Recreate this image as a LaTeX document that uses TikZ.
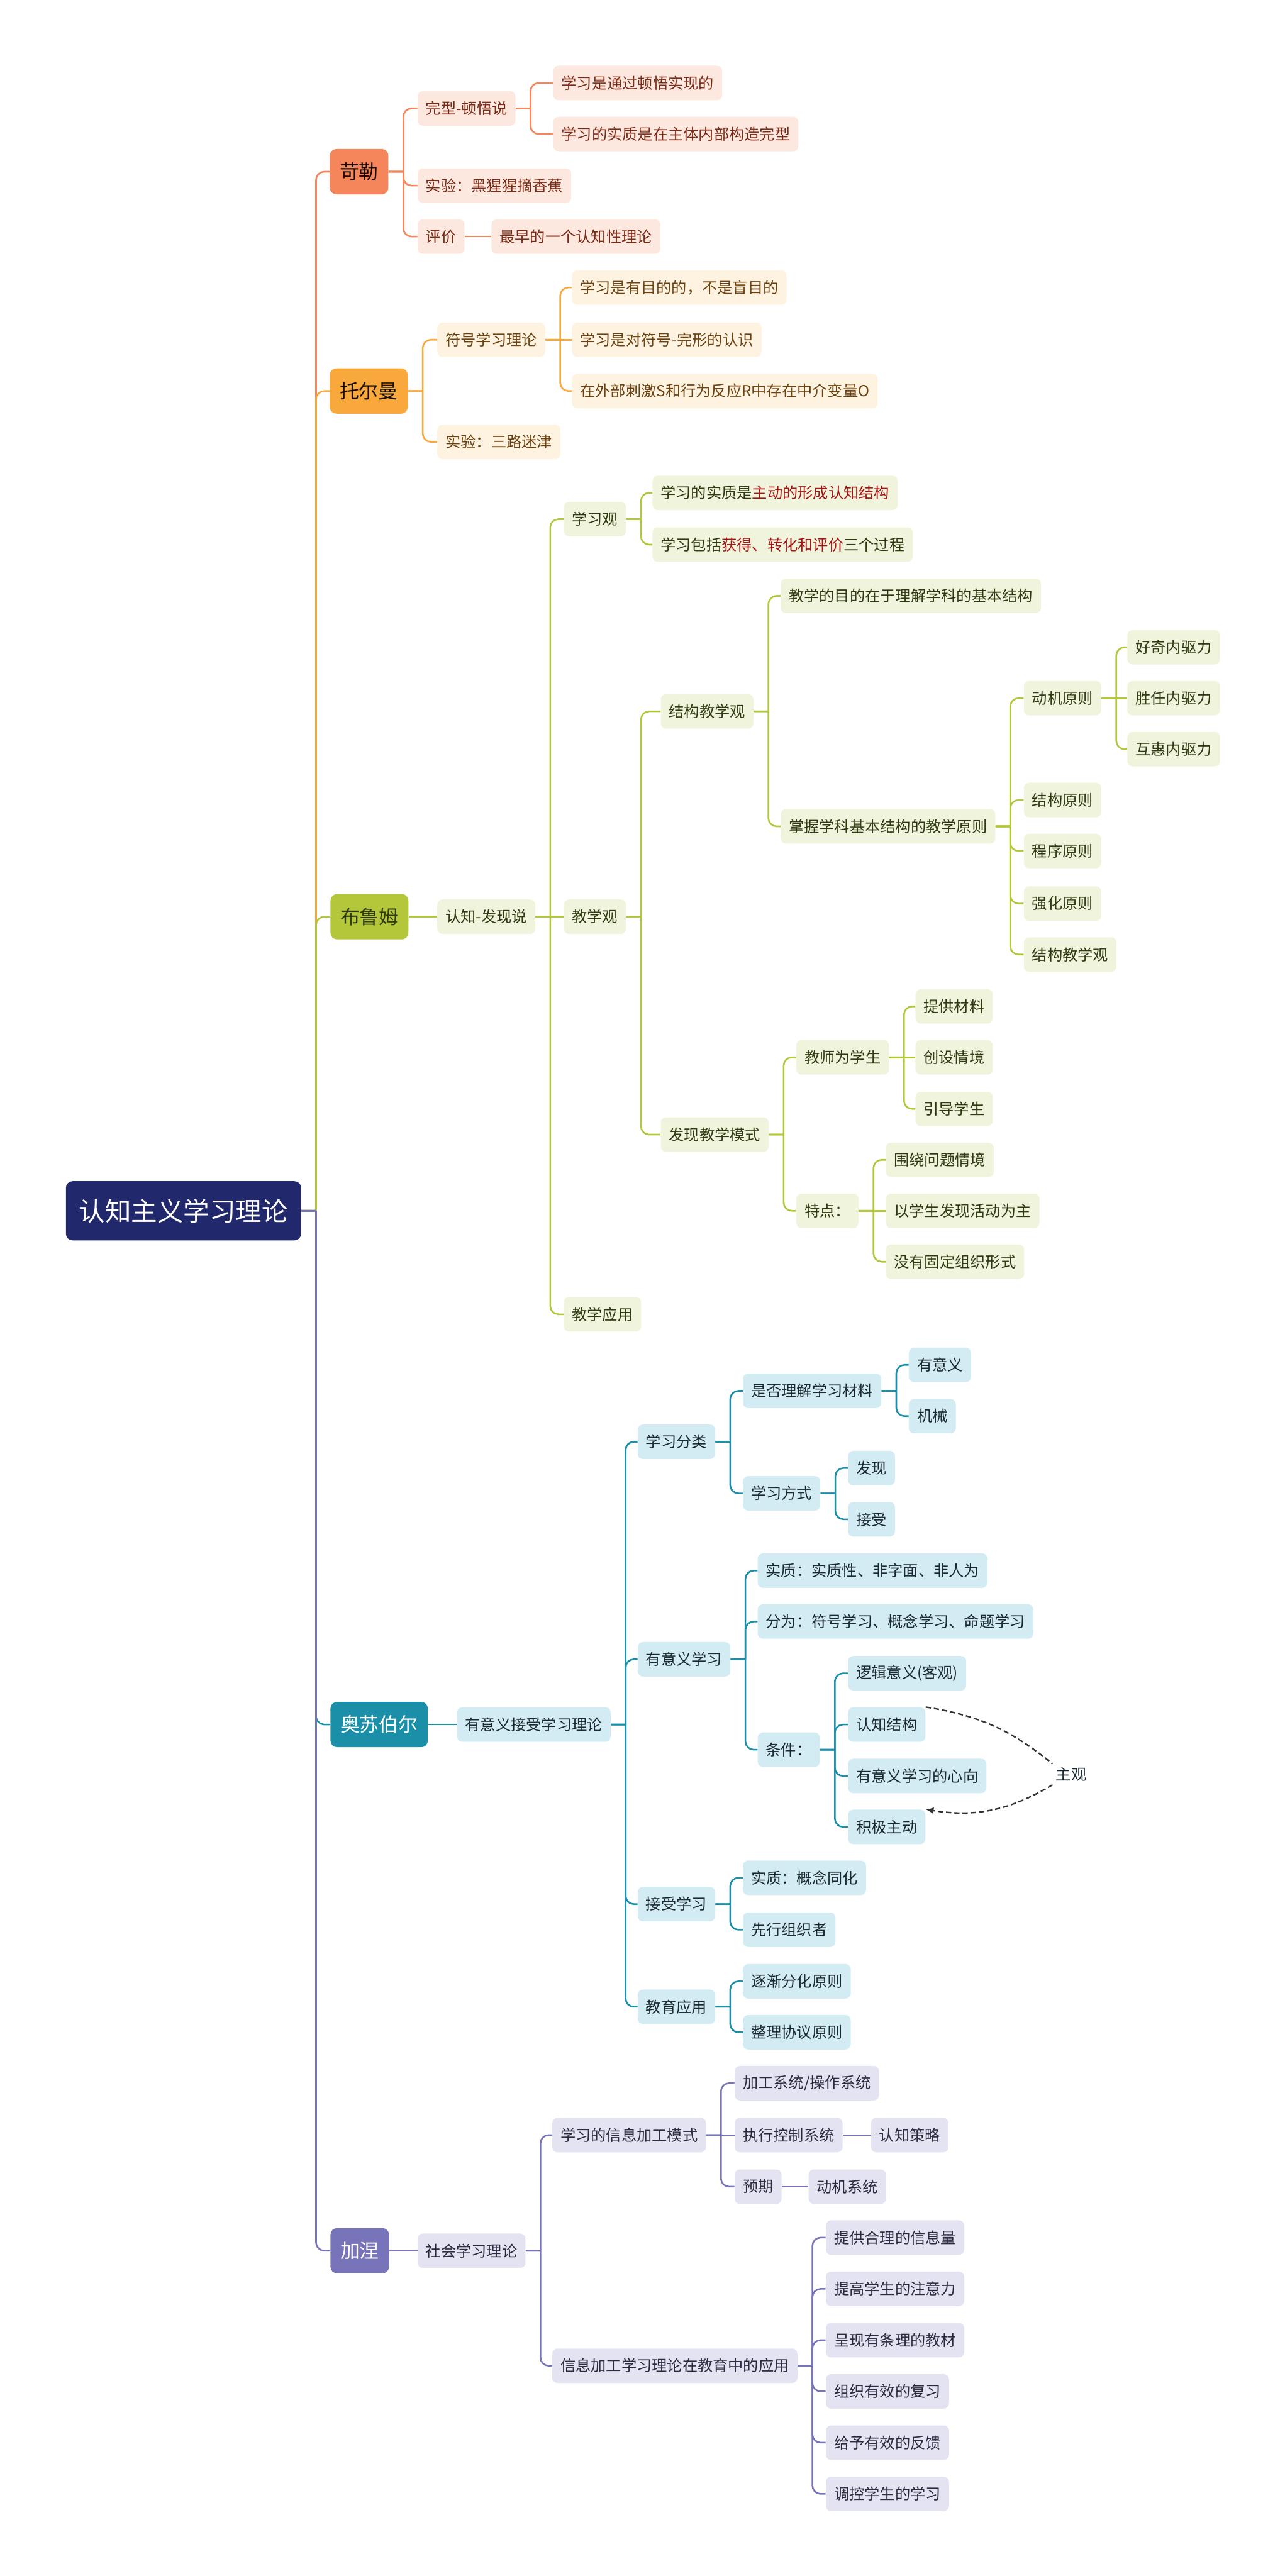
\documentclass[tikz,border=0pt]{standalone}
\usepackage{fontspec}
\setmainfont{Noto Sans CJK SC}
\usetikzlibrary{arrows.meta, positioning}
\definecolor{rootC}{HTML}{21286B}
\definecolor{klC}{HTML}{F5865C}
\definecolor{klsubC}{HTML}{FDE8E0}
\definecolor{kltxtC}{HTML}{7A2B16}
\definecolor{teC}{HTML}{F9A93B}
\definecolor{tesubC}{HTML}{FEF3E1}
\definecolor{tetxtC}{HTML}{6B4210}
\definecolor{blC}{HTML}{B4C73A}
\definecolor{blsubC}{HTML}{F1F4DC}
\definecolor{bltxtC}{HTML}{2F3A12}
\definecolor{asC}{HTML}{1B8EA8}
\definecolor{assubC}{HTML}{D3ECF3}
\definecolor{astxtC}{HTML}{1A2A30}
\definecolor{jnC}{HTML}{7874BA}
\definecolor{jnsubC}{HTML}{E4E3F1}
\definecolor{jntxtC}{HTML}{2A2A40}
\definecolor{hlred}{HTML}{A31515}
\definecolor{dashC}{HTML}{333333}

\begin{document}
\begin{tikzpicture}[x=0.05cm, y=-0.05cm, >=Latex,
    box/.style={anchor=west, rounded corners=1.6mm, inner xsep=2.5mm, inner ysep=0pt,
                minimum height=10.5mm, font=\fontsize{13.2}{16}\selectfont},
    topic/.style={anchor=west, rounded corners=2mm, inner xsep=3mm, inner ysep=0pt,
                  minimum height=13.8mm, font=\fontsize{16.8}{20}\selectfont},
    rootbox/.style={anchor=west, rounded corners=2mm, inner xsep=4mm, minimum height=18mm,
                    fill=rootC, text=white, font=\fontsize{22.6}{26}\selectfont},
    link/.style={to path={-- ++(9,0) ++(0,0) [rounded corners=2.5mm] |- (\tikztotarget)}},
    klmain/.style={topic, fill=klC, text=black!80!kltxtC},
    klsub/.style={box, fill=klsubC, text=kltxtC},
    klline/.style={draw=klC, line width=0.5mm},
    temain/.style={topic, fill=teC, text=black!80!tetxtC},
    tesub/.style={box, fill=tesubC, text=tetxtC},
    teline/.style={draw=teC, line width=0.5mm},
    blmain/.style={topic, fill=blC, text=bltxtC},
    blsub/.style={box, fill=blsubC, text=bltxtC},
    blline/.style={draw=blC, line width=0.5mm},
    asmain/.style={topic, fill=asC, text=white},
    assub/.style={box, fill=assubC, text=astxtC},
    asline/.style={draw=asC, line width=0.5mm},
    jnmain/.style={topic, fill=jnC, text=white},
    jnsub/.style={box, fill=jnsubC, text=jntxtC},
    jnline/.style={draw=jnC, line width=0.5mm},
    dashline/.style={draw=dashC, line width=0.45mm, dash pattern=on 1.6mm off 0.9mm}]
  \useasboundingbox (0,0) rectangle (782,1568);
  % Root
  \node[rootbox] (root) at (40,737) {认知主义学习理论};

  % Koehler
  \node[klmain] (kl) at (200.6,104.5) {苛勒};
  \node[klsub] (kl1) at (254,66) {完型-顿悟说};
  \node[klsub] (kl11) at (336.6,50.5) {学习是通过顿悟实现的};
  \node[klsub] (kl12) at (336.6,81.6) {学习的实质是在主体内部构造完型};
  \node[klsub] (kl2) at (254,113) {实验：黑猩猩摘香蕉};
  \node[klsub] (kl3) at (254,144) {评价};
  \node[klsub] (kl31) at (299,144) {最早的一个认知性理论};
  \draw[klline] (root.east) to[link] (kl.west);
  \foreach \c in {kl1,kl2,kl3} \draw[klline] (kl.east) to[link] (\c.west);
  \foreach \c in {kl11,kl12} \draw[klline] (kl1.east) to[link] (\c.west);
  \draw[klline] (kl3.east) -- (kl31.west);

  % Tolman
  \node[temain] (te) at (200.6,238) {托尔曼};
  \node[tesub] (te1) at (266,206.8) {符号学习理论};
  \node[tesub] (te11) at (348,175) {学习是有目的的，不是盲目的};
  \node[tesub] (te12) at (348,206.8) {学习是对符号-完形的认识};
  \node[tesub] (te13) at (348,238) {在外部刺激S和行为反应R中存在中介变量O};
  \node[tesub] (te2) at (266,269) {实验：三路迷津};
  \draw[teline] (root.east) to[link] (te.west);
  \foreach \c in {te1,te2} \draw[teline] (te.east) to[link] (\c.west);
  \foreach \c in {te11,te13} \draw[teline] (te1.east) to[link] (\c.west);
  \draw[teline] (te1.east) -- (te12.west);

  % Bruner
  \node[blmain] (bl) at (201,558) {布鲁姆};
  \node[blsub] (bl1) at (266,558) {认知-发现说};
  \node[blsub] (bl11) at (343,316) {学习观};
  \node[blsub] (bl111) at (397,300) {学习的实质是{\color{hlred}主动的形成认知结构}};
  \node[blsub] (bl112) at (397,331.5) {学习包括{\color{hlred}获得、转化和评价}三个过程};
  \node[blsub] (bl12) at (343,558) {教学观};
  \node[blsub] (bl121) at (402,433) {结构教学观};
  \node[blsub] (bl1211) at (475,362.7) {教学的目的在于理解学科的基本结构};
  \node[blsub] (bl1212) at (475,503) {掌握学科基本结构的教学原则};
  \node[blsub] (dj) at (623,425) {动机原则};
  \node[blsub] (dj1) at (686,394) {好奇内驱力};
  \node[blsub] (dj2) at (686,425) {胜任内驱力};
  \node[blsub] (dj3) at (686,456) {互惠内驱力};
  \node[blsub] (bl122) at (402,690.6) {发现教学模式};
  \node[blsub] (js) at (484.5,643.6) {教师为学生};
  \node[blsub] (js1) at (557,612.6) {提供材料};
  \node[blsub] (js2) at (557,643.6) {创设情境};
  \node[blsub] (js3) at (557,675) {引导学生};
  \node[blsub] (td) at (484.5,737) {特点：};
  \node[blsub] (td1) at (539,706) {围绕问题情境};
  \node[blsub] (td2) at (539,737) {以学生发现活动为主};
  \node[blsub] (td3) at (539,768) {没有固定组织形式};
  \node[blsub] (bl13) at (343,800) {教学应用};
  \draw[blline] (root.east) to[link] (bl.west);
  \draw[blline] (bl.east) -- (bl1.west);
  \foreach \c in {bl11,bl13} \draw[blline] (bl1.east) to[link] (\c.west);
  \draw[blline] (bl1.east) -- (bl12.west);
  \foreach \c in {bl111,bl112} \draw[blline] (bl11.east) to[link] (\c.west);
  \foreach \c in {bl121,bl122} \draw[blline] (bl12.east) to[link] (\c.west);
  \foreach \c in {bl1211,bl1212} \draw[blline] (bl121.east) to[link] (\c.west);
  \draw[blline] (bl1212.east) to[link] (dj.west);
  \foreach \t/\y [count=\i] in {结构原则/487, 程序原则/518, 强化原则/550, 结构教学观/581} {
    \node[blsub] (yz\i) at (623,\y) {\t};
    \draw[blline] (bl1212.east) to[link] (yz\i.west);
  }
  \foreach \c in {dj1,dj3} \draw[blline] (dj.east) to[link] (\c.west);
  \draw[blline] (dj.east) -- (dj2.west);
  \foreach \c in {js,td} \draw[blline] (bl122.east) to[link] (\c.west);
  \foreach \c in {js1,js3} \draw[blline] (js.east) to[link] (\c.west);
  \draw[blline] (js.east) -- (js2.west);
  \foreach \c in {td1,td3} \draw[blline] (td.east) to[link] (\c.west);
  \draw[blline] (td.east) -- (td2.west);

  % Ausubel
  \node[asmain] (as) at (201,1049.7) {奥苏伯尔};
  \node[assub] (as1) at (278,1049.7) {有意义接受学习理论};
  \node[assub] (as11) at (388,877.6) {学习分类};
  \node[assub] (lj) at (452,846.6) {是否理解学习材料};
  \node[assub] (lj1) at (553,830.8) {有意义};
  \node[assub] (lj2) at (553,862) {机械};
  \node[assub] (fs) at (452,909) {学习方式};
  \node[assub] (fs1) at (516,893.6) {发现};
  \node[assub] (fs2) at (516,924.8) {接受};
  \node[assub] (as12) at (388,1010) {有意义学习};
  \node[assub] (sz) at (461,956) {实质：实质性、非字面、非人为};
  \node[assub] (fw) at (461,987) {分为：符号学习、概念学习、命题学习};
  \node[assub] (tj) at (461,1065) {条件：};
  \node[assub] (ljyy) at (516,1018.5) {逻辑意义(客观)};
  \node[assub] (rzjg) at (516,1049.7) {认知结构};
  \node[assub] (xx) at (516,1081) {有意义学习的心向};
  \node[assub] (jjzd) at (516,1112) {积极主动};
  \node[text=astxtC, inner sep=1mm, font=\fontsize{13.2}{16}\selectfont] (zg) at (652,1080) {主观};
  \node[assub] (as13) at (388,1159) {接受学习};
  \node[assub] (jx1) at (452,1143) {实质：概念同化};
  \node[assub] (jx2) at (452,1174.6) {先行组织者};
  \node[assub] (as14) at (388,1221.5) {教育应用};
  \node[assub] (yy1) at (452,1206) {逐渐分化原则};
  \node[assub] (yy2) at (452,1237) {整理协议原则};
  \draw[asline] (root.east) to[link] (as.west);
  \draw[asline] (as.east) -- (as1.west);
  \foreach \c in {as11,as12,as13,as14} \draw[asline] (as1.east) to[link] (\c.west);
  \foreach \c in {lj,fs} \draw[asline] (as11.east) to[link] (\c.west);
  \foreach \c in {lj1,lj2} \draw[asline] (lj.east) to[link] (\c.west);
  \foreach \c in {fs1,fs2} \draw[asline] (fs.east) to[link] (\c.west);
  \foreach \c in {sz,fw,tj} \draw[asline] (as12.east) to[link] (\c.west);
  \foreach \c in {ljyy,rzjg,xx,jjzd} \draw[asline] (tj.east) to[link] (\c.west);
  \foreach \c in {jx1,jx2} \draw[asline] (as13.east) to[link] (\c.west);
  \foreach \c in {yy1,yy2} \draw[asline] (as14.east) to[link] (\c.west);
  \draw[dashline] (rzjg.north east) to[bend left=15] (zg.north west);
  \draw[dashline, -{Latex[length=2.4mm, width=2mm]}] (zg.south west) to[bend left=20] (jjzd.north east);

  % Gagne
  \node[jnmain] (jn) at (201,1370) {加涅};
  \node[jnsub] (jn1) at (254,1370) {社会学习理论};
  \node[jnsub] (jn11) at (336,1299.6) {学习的信息加工模式};
  \node[jnsub] (xt1) at (447,1268) {加工系统/操作系统};
  \node[jnsub] (xt2) at (447,1299.6) {执行控制系统};
  \node[jnsub] (xt21) at (530,1299.6) {认知策略};
  \node[jnsub] (xt3) at (447,1331) {预期};
  \node[jnsub] (xt31) at (492,1331) {动机系统};
  \node[jnsub] (jn12) at (336,1440) {信息加工学习理论在教育中的应用};
  \draw[jnline] (root.east) to[link] (jn.west);
  \draw[jnline] (jn.east) -- (jn1.west);
  \foreach \c in {jn11,jn12} \draw[jnline] (jn1.east) to[link] (\c.west);
  \foreach \c in {xt1,xt3} \draw[jnline] (jn11.east) to[link] (\c.west);
  \draw[jnline] (jn11.east) -- (xt2.west);
  \draw[jnline] (xt2.east) -- (xt21.west);
  \draw[jnline] (xt3.east) -- (xt31.west);
  \foreach \t [count=\i] in {提供合理的信息量, 提高学生的注意力, 呈现有条理的教材,
                             组织有效的复习, 给予有效的反馈, 调控学生的学习} {
    \node[jnsub] (jy\i) at (502.5,{1362+31.2*(\i-1)}) {\t};
    \draw[jnline] (jn12.east) to[link] (jy\i.west);
  }
\end{tikzpicture}
\end{document}
